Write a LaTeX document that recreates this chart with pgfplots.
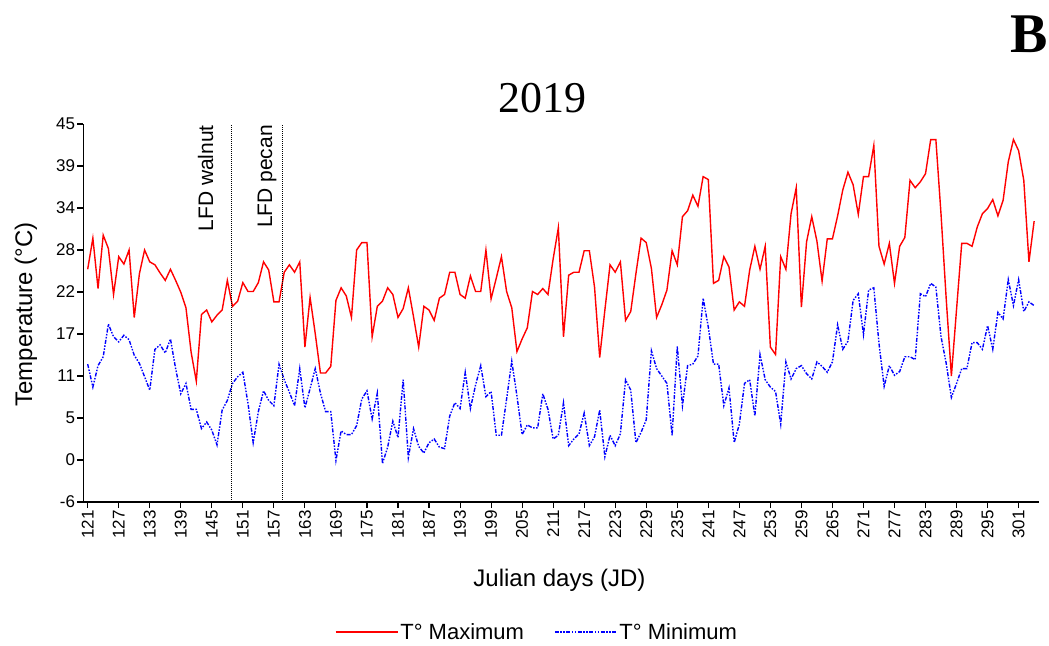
\documentclass[border=0pt]{standalone}
\usepackage{fontspec}
\setmainfont{Liberation Sans}
\newfontfamily\seriffont{Liberation Serif}
\usepackage{pgfplots}
\pgfplotsset{compat=1.18}
\usepackage{pgfplotstable}

\pgfplotstableread{
d tmax tmin
121 25.4 12.6
122 29.6 9.5
123 22.8 12.4
124 30.0 13.6
125 28.2 18.0
126 22.0 16.3
127 27.1 15.6
128 26.1 16.5
129 28.0 15.9
130 18.9 13.8
131 24.8 12.7
132 28.0 10.9
133 26.4 9.1
134 26.0 14.6
135 24.9 15.2
136 23.9 14.1
137 25.4 16.0
138 23.9 12.0
139 22.3 8.6
140 20.2 10.0
141 14.2 6.5
142 10.3 6.5
143 19.3 3.9
144 19.9 4.8
145 18.3 3.7
146 19.2 1.7
147 19.9 6.4
148 23.9 7.7
149 20.4 10.0
150 21.1 10.9
151 23.6 11.5
152 22.4 7.3
153 22.4 2.0
154 23.6 6.2
155 26.4 9.0
156 25.3 7.7
157 21.0 7.0
158 21.0 12.6
159 25.0 10.5
160 26.0 8.8
161 25.0 7.0
162 26.4 12.0
163 14.9 6.7
164 21.6 9.3
165 16.7 12.0
166 11.4 8.7
167 11.4 6.2
168 12.3 6.2
169 21.2 -0.4
170 22.9 3.6
171 21.8 3.1
172 18.9 3.1
173 28.0 4.3
174 29.0 7.9
175 29.0 9.0
176 16.3 5.2
177 20.4 8.7
178 21.1 -0.8
179 22.9 1.4
180 22.0 4.9
181 18.9 2.7
182 20.1 10.5
183 22.9 0.0
184 19.0 3.9
185 14.9 1.5
186 20.4 0.6
187 19.9 2.0
188 18.5 2.5
189 21.5 1.4
190 22.0 1.2
191 25.0 5.6
192 25.0 7.4
193 22.0 6.6
194 21.5 11.5
195 24.5 6.6
196 22.4 9.8
197 22.4 12.4
198 28.0 8.2
199 21.4 8.9
200 24.2 3.0
201 27.1 3.0
202 22.4 7.9
203 20.2 13.0
204 14.3 8.3
205 16.0 3.1
206 17.5 4.4
207 22.4 4.0
208 22.0 4.0
209 22.8 8.6
210 22.0 6.5
211 26.8 2.5
212 31.0 3.0
213 16.3 7.4
214 24.6 1.6
215 25.0 2.5
216 25.0 3.2
217 27.9 6.0
218 27.9 1.6
219 23.0 2.8
220 13.5 6.4
221 19.9 0.1
222 26.0 3.0
223 25.0 1.6
224 26.4 3.2
225 18.5 10.5
226 19.7 9.1
227 24.8 2.0
228 29.6 3.4
229 29.0 5.1
230 25.5 14.4
231 18.9 12.0
232 20.6 11.0
233 22.6 10.0
234 27.9 3.0
235 26.0 15.0
236 32.5 7.0
237 33.3 12.4
238 35.4 12.6
239 33.9 13.7
240 37.9 21.5
241 37.5 17.6
242 23.5 12.6
243 23.9 12.6
244 27.1 7.0
245 25.7 9.4
246 19.9 2.0
247 21.0 4.5
248 20.4 10.0
249 25.3 10.5
250 28.5 5.6
251 25.4 13.9
252 28.5 10.5
253 14.9 9.5
254 13.9 8.9
255 27.1 4.5
256 25.4 12.9
257 32.9 10.6
258 36.4 12.0
259 20.3 12.4
260 29.1 11.3
261 32.5 10.6
262 29.2 12.9
263 23.8 12.3
264 29.5 11.5
265 29.5 12.9
266 32.6 17.9
267 36.1 14.6
268 38.5 15.7
269 36.8 21.2
270 32.8 22.1
271 37.9 16.6
272 37.9 22.6
273 42.1 22.9
274 28.5 15.4
275 26.1 9.6
276 28.9 12.4
277 23.5 11.1
278 28.5 11.6
279 29.7 13.6
280 37.4 13.6
281 36.4 13.2
282 37.2 22.1
283 38.3 21.7
284 42.9 23.5
285 42.9 23.0
286 32.8 16.3
287 21.4 12.7
288 11.0 8.1
289 20.0 10.0
290 28.9 12.0
291 28.9 12.0
292 28.5 15.5
293 31.1 15.5
294 32.9 14.6
295 33.6 17.8
296 34.8 14.6
297 32.6 19.6
298 34.7 18.7
299 39.9 24.0
300 42.9 20.5
301 41.4 24.0
302 37.4 19.7
303 26.4 21.0
304 31.9 20.5
}\temps

\begin{document}
\begin{tikzpicture}
\begin{axis}[
  at={(83.3pt,143pt)}, anchor=south west,
  width=956pt, height=378pt, scale only axis,
  xmin=120.15, xmax=305, ymin=-6, ymax=45,
  axis lines=left,
  axis line style={-, line width=1.1pt, black},
  tick align=outside,
  major tick length=6pt,
  tick style={line width=1.1pt, black},
  xtick={121,127,...,301},
  ytick={-6,-0.3333,5.3333,11,16.6667,22.3333,28,33.6667,39.3333,45},
  yticklabels={-6,0,5,11,17,22,28,34,39,45},
  /pgf/number format/assume math mode=true,
  ticklabel style={font=\fontsize{17}{20}\selectfont},
  xticklabel style={rotate=90, anchor=east, inner sep=2pt},
  yticklabel style={inner sep=2pt},
  clip=false,
  legend columns=2,
  legend style={at={(0.4746,-0.378)}, anchor=south, draw=none, fill=none,
    font=\fontsize{22}{24}\selectfont,
    /tikz/every even column/.append style={column sep=28pt}},
  legend image code/.code={\draw[#1] (0pt,0pt) -- (62pt,0pt);},
]
\addplot[red, line width=1.4pt] table[x=d, y=tmax] {\temps};
\addlegendentry{T° Maximum}
\addplot[blue, line width=1.4pt, dash pattern=on 4pt off 1.5pt on 1.5pt off 1.5pt on 1.5pt off 1.5pt] table[x=d, y=tmin] {\temps};
\addlegendentry{T° Minimum}
\addplot[black, line width=1.2pt, dash pattern=on 1pt off 1pt, forget plot] coordinates {(148.8,-6) (148.8,45)};
\addplot[black, line width=1.2pt, dash pattern=on 1pt off 1pt, forget plot] coordinates {(158.7,-6) (158.7,45)};
\end{axis}
\node[rotate=90, anchor=base east, inner sep=0pt, font=\fontsize{21}{24}\selectfont] at (213pt,520pt) {LFD walnut};
\node[rotate=90, anchor=base east, inner sep=0pt, font=\fontsize{21}{24}\selectfont] at (272pt,520pt) {LFD pecan};
\node[rotate=90, anchor=base, inner sep=0pt, font=\fontsize{24}{28}\selectfont] at (32pt,330.5pt) {Temperature (°C)};
\node[anchor=base, inner sep=0pt, font=\fontsize{24}{28}\selectfont] at (559.5pt,58pt) {Julian days (JD)};
\node[anchor=base, inner sep=0pt, font=\seriffont\fontsize{44}{50}\selectfont] at (542.5pt,532pt) {2019};
\node[anchor=base east, inner sep=0pt, font=\seriffont\bfseries\fontsize{56}{60}\selectfont] at (1048pt,592pt) {B};
\pgfresetboundingbox
\useasboundingbox (0pt,0pt) rectangle (1049pt,645pt);
\end{tikzpicture}
\end{document}
